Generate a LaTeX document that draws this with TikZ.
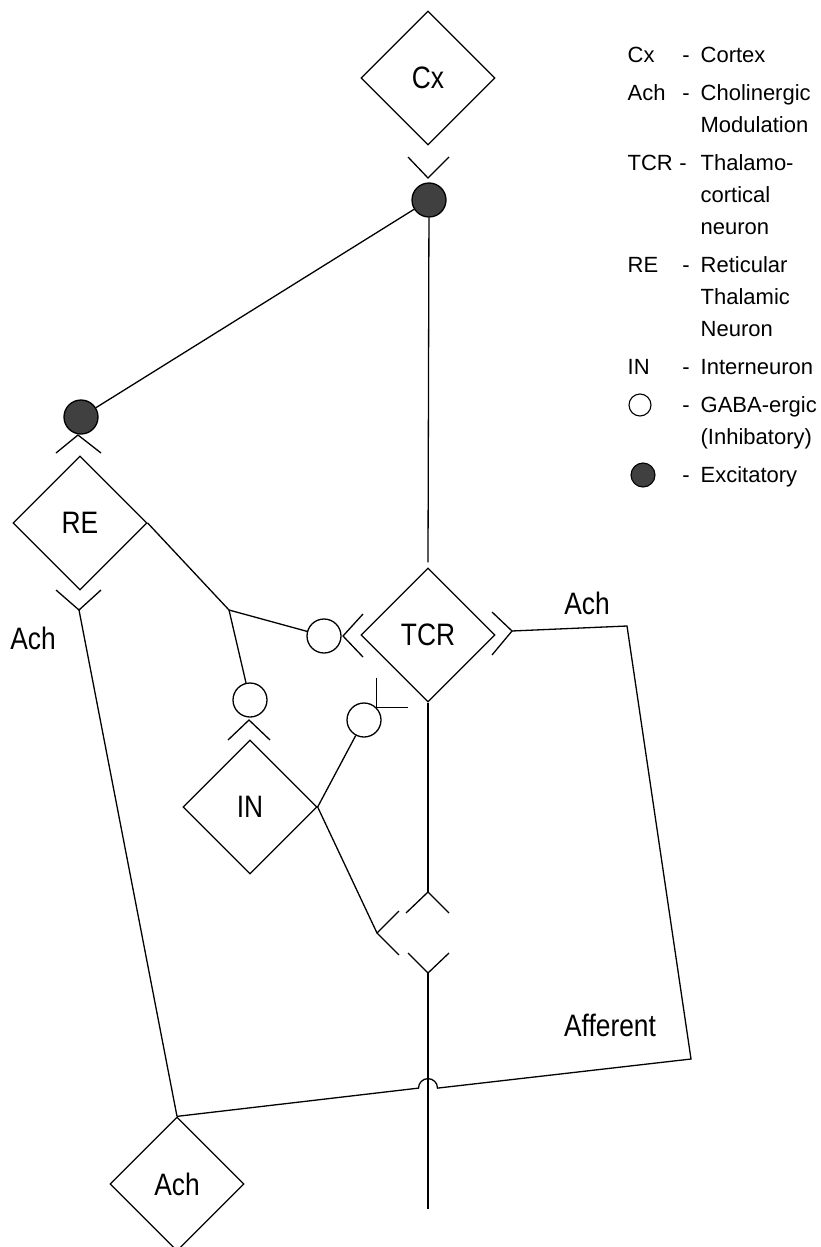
\documentclass[tikz,border=0pt]{standalone}
\usepackage{fontspec}
\setmainfont{Liberation Sans}
\newfontfamily\narrowsans[FakeStretch=0.85]{Liberation Sans}
\usetikzlibrary{shapes.geometric}
\begin{document}
\begin{tikzpicture}[x=1pt,y=-1pt, line width=1.3pt,
  cell/.style={diamond, draw, minimum width=134pt, minimum height=134pt, inner sep=0pt, font=\narrowsans\fontsize{31}{31}\selectfont},
  inh/.style={circle, draw, minimum size=34pt, inner sep=0pt},
  exc/.style={circle, draw, fill=black!75, minimum size=34pt, inner sep=0pt},
  bigtxt/.style={font=\narrowsans\fontsize{31}{31}\selectfont, inner sep=0pt},
  legtxt/.style={font=\fontsize{22}{22}\selectfont, inner sep=0pt, anchor=base west},
  legdash/.style={font=\fontsize{22}{22}\selectfont, inner sep=0pt, anchor=base},
]
\useasboundingbox (0,0) rectangle (820,1247);

% cells
\node[cell] (Cx) at (428,78) {Cx};
\node[cell] (TCR) at (428,635) {TCR};
\node[cell] (RE) at (80,523) {RE};
\node[cell] (IN) at (250,807) {IN};
\node[cell] (AchC) at (177,1184) {Ach};

% synapses
\node[exc] (e1) at (429,200) {};
\node[exc] (e2) at (81,417) {};
\node[inh] (i1) at (324,636) {};
\node[inh] (i2) at (250,700) {};
\node[inh] (i3) at (364,720) {};

% chevron apexes
\coordinate (cxV) at (428,178);
\coordinate (reA) at (78,435);
\coordinate (reV) at (79,610);
\coordinate (tcrL) at (343,636);
\coordinate (tcrR) at (512,631);
\coordinate (inA) at (249,720);
\coordinate (dA) at (428,892);
\coordinate (dL) at (377,933);
\coordinate (dV) at (428,973);

\draw (408,157) -- (cxV) -- (449,157);
\draw (56,453) -- (reA) -- (101,453);
\draw (56,590) -- (reV) -- (101,590);
\draw (363,614) -- (tcrL) -- (363,657);
\draw (492,612) -- (tcrR) -- (492,655);
\draw (228,740) -- (inA) -- (270,740);
\draw (406,913) -- (dA) -- (449,913);
\draw (399,911) -- (dL) -- (399,955);
\draw (408,953) -- (dV) -- (449,953);

% other points
\coordinate (J1) at (229,610);
\coordinate (c1) at (627,626);
\coordinate (c2) at (691,1059);
\coordinate (hopR) at (437.5,1088.1);
\coordinate (affEnd) at (428,1209);

% connectors
\draw (e1) -- ([yshift=5pt]TCR.north);
\draw (e1) -- (e2);
\draw (reV) -- (AchC.north);
\draw (RE.east) -- (J1);
\draw (J1) -- (i1);
\draw (J1) -- (i2);
\draw (IN.east) -- (i3);
\draw (IN.east) -- (dL);
\draw (TCR.south) -- (dA);
\draw (dV) -- (affEnd);
\draw (tcrR) -- (c1) -- (c2) -- (hopR) arc[start angle=0, end angle=180, radius=9.5pt] -- (AchC.north);
\draw ([yshift=30pt]i3.north east) -- (i3.north east) -- ([xshift=32pt]i3.north east);

% labels
\node[bigtxt] (achL) at (33,638) {Ach};
\node[bigtxt] (achR) at (587,603) {Ach};
\node[bigtxt] (aff) at (610,1025) {Afferent};

% legend
\node[legtxt] (k1) at (627,62.5) {Cx};
\node[legdash] (d1) at (686,62.5) {-};
\node[legtxt] (t1) at (700,62.5) {Cortex};

\node[legtxt] (k2) at (627,100.5) {Ach};
\node[legdash] (d2) at (686,100.5) {-};
\node[legtxt] (t2) at (700,100.5) {Cholinergic};
\node[legtxt] (t2b) at (700,132.5) {Modulation};

\node[legtxt] (k3) at (627,170.5) {TCR};
\node[legdash] (d3) at (683,170.5) {-};
\node[legtxt] (t3) at (700,170.5) {Thalamo-};
\node[legtxt] (t3b) at (700,202.5) {cortical};
\node[legtxt] (t3c) at (700,234.5) {neuron};

\node[legtxt] (k4) at (627,272.5) {RE};
\node[legdash] (d4) at (686,272.5) {-};
\node[legtxt] (t4) at (700,272.5) {Reticular};
\node[legtxt] (t4b) at (700,304.5) {Thalamic};
\node[legtxt] (t4c) at (700,336.5) {Neuron};

\node[legtxt] (k5) at (627,374.5) {IN};
\node[legdash] (d5) at (686,374.5) {-};
\node[legtxt] (t5) at (700,374.5) {Interneuron};

\node[circle, draw, minimum size=22pt, inner sep=0pt, line width=1.1pt] (k6) at (640,405) {};
\node[legdash] (d6) at (686,412.5) {-};
\node[legtxt] (t6) at (700,412.5) {GABA-ergic};
\node[legtxt] (t6b) at (700,444.5) {(Inhibatory)};

\node[circle, draw, fill=black!75, minimum size=24pt, inner sep=0pt, line width=1.1pt] (k7) at (643,475) {};
\node[legdash] (d7) at (686,482.5) {-};
\node[legtxt] (t7) at (700,482.5) {Excitatory};
\end{tikzpicture}
\end{document}
